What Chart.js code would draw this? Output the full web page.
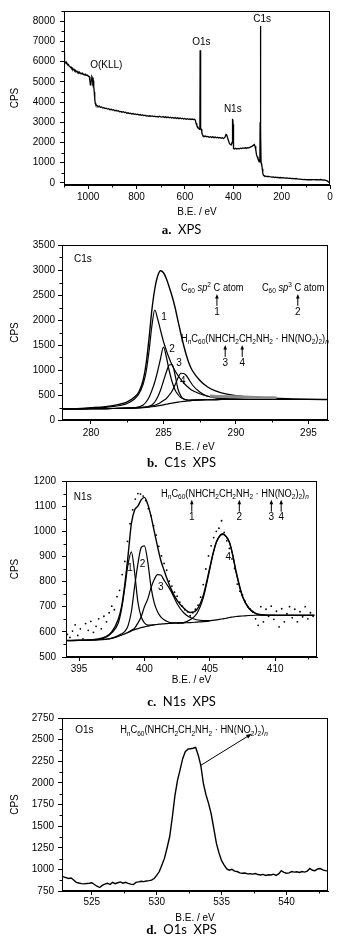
<!DOCTYPE html>
<html>
<head>
<meta charset="utf-8">
<script src="https://cdn.jsdelivr.net/npm/chart.js@4.4.1/dist/chart.umd.min.js"></script>
<style>
  body { margin: 0; background: #fff; width: 363px; height: 946px; position: relative; overflow: hidden; }
  canvas { position: absolute; left: 0; }
  .cap { position: absolute; left: 0; width: 363px; text-align: center; line-height: 14px; font: 13px "Lato", "DejaVu Sans", sans-serif; color: #000; }
  .cap b { font-family: "Liberation Serif", serif; }
</style>
</head>
<body>
<canvas id="survey" width="363" height="222" style="top:0px"></canvas>
<div class="cap" style="top:221px"><b>a.</b>&nbsp; XPS</div>
<canvas id="c1s" width="363" height="218" style="top:236px"></canvas>
<div class="cap" style="top:454px"><b>b.</b>&nbsp; C1s&nbsp; XPS</div>
<canvas id="n1s" width="363" height="222" style="top:468px"></canvas>
<div class="cap" style="top:693px"><b>c.</b>&nbsp; N1s&nbsp; XPS</div>
<canvas id="o1s" width="363" height="221" style="top:705px"></canvas>
<div class="cap" style="top:921px"><b>d.</b>&nbsp; O1s&nbsp; XPS</div>

<script>
// ---------- a. survey spectrum ----------
var surveyBE = [
  1100, 1099, 1097, 1094, 1091, 1088, 1085, 1082, 1079, 1076,
  1073, 1070, 1067, 1064, 1061, 1058, 1055, 1052, 1049, 1046,
  1043, 1040, 1037, 1034, 1031, 1028, 1025, 1022, 1019, 1016,
  1013, 1010, 1007, 1004, 1001, 998, 995, 993, 991, 989,
  987, 985, 983, 981, 979, 977, 975, 973, 971, 969,
  966, 963, 960, 955, 950, 945, 940, 935, 930, 925,
  920, 915, 910, 905, 900, 895, 890, 885, 880, 875,
  870, 865, 860, 855, 850, 845, 840, 835, 830, 825,
  820, 815, 810, 805, 800, 795, 790, 785, 780, 775,
  770, 765, 760, 755, 750, 745, 740, 735, 730, 725,
  720, 715, 710, 705, 700, 695, 690, 685, 680, 675,
  670, 665, 660, 655, 650, 645, 640, 635, 630, 625,
  620, 615, 610, 605, 600, 595, 590, 585, 580, 575,
  570, 565, 560, 557, 554, 551, 548, 545, 542, 540,
  538, 537, 536, 535, 534, 532, 530, 528, 526, 524,
  520, 515, 510, 505, 500, 495, 490, 485, 480, 475,
  470, 465, 460, 455, 450, 445, 440, 435, 430, 427,
  424, 420, 416, 412, 408, 405, 404, 403, 402, 401,
  400, 398, 395, 390, 385, 380, 375, 370, 365, 360,
  355, 350, 345, 340, 335, 330, 325, 320, 316, 313,
  310, 307, 304, 301, 298, 295, 292, 290, 289, 288,
  287, 286, 285, 284, 282, 280, 278, 276, 273, 270,
  265, 260, 255, 250, 245, 240, 235, 230, 225, 220,
  215, 210, 205, 200, 195, 190, 185, 180, 175, 170,
  165, 160, 155, 150, 145, 140, 135, 130, 125, 120,
  115, 110, 105, 100, 95, 90, 85, 80, 75, 70,
  65, 60, 55, 50, 45, 40, 35, 30, 25, 20,
  15, 10, 5, 2, 0
];
var surveyCPS = [
  6450, 6200, 6000, 5980, 5900, 5920, 5840, 5860, 5780, 5760,
  5700, 5720, 5640, 5660, 5590, 5610, 5540, 5560, 5500, 5520,
  5460, 5480, 5430, 5450, 5400, 5420, 5380, 5400, 5350, 5370,
  5330, 5350, 5310, 5330, 5300, 5280, 5250, 5050, 4850, 4880,
  5100, 5250, 5200, 4950, 5050, 4750, 4500, 4200, 3950, 3880,
  3850, 3820, 3780, 3800, 3740, 3760, 3700, 3720, 3680, 3700,
  3650, 3670, 3620, 3640, 3600, 3620, 3570, 3590, 3550, 3570,
  3520, 3540, 3500, 3520, 3480, 3500, 3450, 3470, 3430, 3450,
  3410, 3430, 3390, 3410, 3380, 3400, 3360, 3380, 3340, 3360,
  3330, 3350, 3310, 3330, 3300, 3320, 3290, 3310, 3280, 3300,
  3270, 3290, 3260, 3300, 3270, 3260, 3290, 3240, 3270, 3230,
  3260, 3220, 3250, 3210, 3240, 3200, 3230, 3190, 3220, 3180,
  3210, 3170, 3200, 3160, 3190, 3150, 3180, 3150, 3170, 3140,
  3160, 3130, 3150, 3100, 2950, 2850, 2800, 2720, 2700, 2650,
  2900, 6560, 6000, 3000, 2700, 2650, 2500, 2400, 2350, 2330,
  2300, 2320, 2280, 2300, 2260, 2290, 2250, 2280, 2240, 2270,
  2230, 2260, 2220, 2250, 2210, 2240, 2200, 2250, 2400, 2380,
  2250, 2100, 1950, 1900, 1880, 2000, 3170, 3050, 2800, 2900,
  2200, 1700, 1680, 1720, 1680, 1710, 1690, 1720, 1700, 1730,
  1710, 1740, 1720, 1750, 1740, 1770, 1800, 1830, 1880, 1900,
  1820, 1650, 1400, 1300, 1200, 1150, 1050, 1100, 3000, 7760,
  7600, 2500, 1000, 900, 950, 700, 500, 400, 360, 350,
  330, 320, 330, 310, 300, 290, 300, 280, 290, 270,
  280, 260, 270, 250, 260, 250, 240, 250, 240, 230,
  240, 220, 230, 220, 210, 220, 200, 190, 190, 180,
  180, 170, 180, 170, 160, 165, 160, 170, 160, 165,
  170, 160, 165, 160, 150, 170, 160, 140, 150, 140,
  120, 90, 40, 20, 10
];
var surveyTicksX = [0, 200, 400, 600, 800, 1000];
var surveyTicksY = [0, 1000, 2000, 3000, 4000, 5000, 6000, 7000, 8000];

// ---------- b. C1s ----------
var c1sBE = [278, 279, 280, 281, 281.5, 282, 282.5, 283, 283.3, 283.6, 283.8,
  284, 284.2, 284.4, 284.6, 284.8, 285, 285.2, 285.4, 285.6, 285.8,
  286, 286.2, 286.4, 286.6, 286.8, 287, 287.5, 288, 288.5,
  289, 290, 291, 292, 293, 294, 295, 296.5];
var c1sEnvelope = [222, 228, 246, 268, 288, 318, 362, 460, 560, 800, 1120,
  1620, 2200, 2620, 2880, 2985, 2945, 2825, 2655, 2470, 2250,
  1985, 1725, 1485, 1275, 1105, 985, 795, 670, 592,
  542, 485, 458, 442, 430, 420, 414, 410];
var c1sPeak1 = [221, 226, 238, 252, 266, 290, 330, 420, 520, 720, 960,
  1370, 1880, 2200, 2020, 1790, 1570, 1390, 1230, 1095, 985,
  890, 810, 740, 680, 630, 590, 525, 480, 452,
  437, 421, 414, 411, 410, 410, 410, 410];
var c1sPeak2 = [221, 223, 225, 228, 230, 233, 237, 243, 262, 300, 360,
  450, 590, 760, 980, 1230, 1460, 1260, 980, 760, 600,
  510, 450, 420, 405, 400, 400, 404, 407, 409,
  410, 410, 410, 410, 410, 410, 410, 410];
var c1sPeak3 = [221, 223, 225, 228, 230, 233, 237, 243, 248, 255, 262,
  275, 300, 360, 460, 600, 780, 960, 1100, 1110, 900,
  620, 480, 420, 400, 395, 397, 402, 406, 408,
  410, 410, 410, 410, 410, 410, 410, 410];
var c1sPeak4 = [221, 223, 225, 228, 230, 233, 237, 242, 247, 254, 260,
  268, 280, 296, 320, 352, 390, 430, 500, 580, 700,
  840, 935, 930, 880, 790, 700, 560, 480, 445,
  428, 416, 412, 410, 410, 410, 410, 410];
var c1sBackground = [220, 222, 225, 228, 230, 233, 236, 240, 244, 249, 253,
  258, 265, 273, 282, 292, 303, 315, 327, 338, 348,
  357, 365, 372, 378, 383, 392, 400, 405, 408,
  410, 410, 410, 410, 410, 410, 410, 410];
var c1sRawBE = [288.2, 289, 289.8, 290.6, 291.4, 292.2, 292.8];
var c1sRawCPS = [480, 470, 465, 460, 452, 446, 442];
var c1sTicksX = [280, 285, 290, 295];
var c1sTicksY = [0, 500, 1000, 1500, 2000, 2500, 3000, 3500];

// ---------- c. N1s ----------
var n1sBE = [394, 395, 396, 396.5, 397, 397.5, 398, 398.25, 398.5, 398.75,
  399, 399.25, 399.5, 399.75, 400, 400.25, 400.5, 400.75, 401, 401.25,
  401.5, 401.75, 402, 402.5, 403, 403.5, 404, 404.5, 405, 405.25,
  405.5, 405.75, 406, 406.25, 406.5, 406.75, 407, 407.5, 408, 408.5,
  409, 410, 411, 412, 413];
var n1sEnvelope = [566, 567, 569, 572, 580, 600, 650, 700, 790, 905,
  1030, 1085, 1100, 1125, 1135, 1108, 1060, 1000, 940, 885,
  845, 808, 775, 725, 695, 677, 688, 745, 855, 912,
  957, 982, 990, 980, 957, 907, 842, 742, 694, 674,
  668, 666, 666, 666, 666];
var n1sPeak1 = [565, 566, 568, 570, 577, 596, 635, 690, 775, 870,
  918, 835, 718, 660, 636, 627, 627, 628, null, null,
  null, null, null, null, null, null, null, null, null, null,
  null, null, null, null, null, null, null, null, null, null,
  null, null, null, null, null];
var n1sPeak2 = [null, null, null, null, 570, 575, 585, 592, 602, 625,
  680, 780, 870, 935, 942, 880, 780, 715, 680, 660,
  648, 641, 637, 636, 636, null, null, null, null, null,
  null, null, null, null, null, null, null, null, null, null,
  null, null, null, null, null];
var n1sPeak3 = [null, null, null, null, null, null, null, null, null, 598,
  606, 615, 635, 660, 700, 730, 775, 808, 828, 826,
  806, 786, 765, 712, 676, 657, 648, 645, 645, null,
  null, null, null, null, null, null, null, null, null, null,
  null, null, null, null, null];
var n1sPeak4 = [null, null, null, null, null, null, null, null, null, null,
  null, null, null, null, null, null, null, null, null, null,
  null, null, null, 635, 637, 648, 672, 735, 850, 910,
  955, 980, 988, 978, 955, 905, 840, 740, 692, 673,
  667, 666, null, null, null];
var n1sBackground = [565, 566, 567, 568, 570, 574, 582, 587, 592, 598,
  604, 609, 613, 617, 620, 623, 626, 628, 630, 631,
  632, 633, 634, 635, 636, 637, 639, 641, 644, 646,
  648, 650, 652, 654, 657, 659, 661, 663, 665, 666,
  666, 666, 666, 666, 666];
var n1sRawBE = [
  394.1, 394.3, 394.5, 394.7, 394.9, 395.1, 395.3, 395.5, 395.7, 395.9,
  396.1, 396.3, 396.5, 396.7, 396.9, 397.1, 397.3, 397.5, 397.7, 397.9,
  398.1, 398.3, 398.5, 398.7, 398.9, 399.1, 399.3, 399.5, 399.7, 399.9,
  400.1, 400.3, 400.5, 400.7, 400.9, 401.1, 401.3, 401.5, 401.7, 401.9,
  402.1, 402.3, 402.5, 402.7, 402.9, 403.1, 403.3, 403.5, 403.7, 403.9,
  404.1, 404.3, 404.5, 404.7, 404.9, 405.1, 405.3, 405.5, 405.7, 405.9,
  406.1, 406.3, 406.5, 406.7, 406.9, 407.1, 407.3, 407.5, 407.7, 407.9,
  408.1, 408.3, 408.5, 408.7, 408.9, 409.1, 409.3, 409.5, 409.7, 409.9,
  410.1, 410.3, 410.5, 410.7, 410.9, 411.1, 411.3, 411.5, 411.7, 411.9,
  412.1, 412.3, 412.5, 412.7, 412.9
];
var n1sRawCPS = [
  590, 578, 603, 628, 586, 612, 572, 633, 606, 642,
  598, 622, 652, 612, 662, 640, 676, 702, 688, 740,
  765, 828, 880, 960, 1030, 1085, 1128, 1150, 1148, 1140,
  1122, 1090, 1062, 1022, 985, 940, 902, 872, 845, 802,
  782, 758, 742, 718, 702, 688, 680, 664, 676, 690,
  706, 738, 788, 850, 902, 942, 975, 1000, 1012, 1042,
  996, 962, 932, 890, 852, 790, 762, 746, 722, 700,
  690, 680, 652, 626, 700, 640, 690, 662, 702, 650,
  682, 620, 692, 640, 672, 700, 656, 690, 640, 680,
  660, 700, 652, 676, 662
];
var n1sTicksX = [395, 400, 405, 410];
var n1sTicksY = [500, 600, 700, 800, 900, 1000, 1100, 1200];

// ---------- d. O1s ----------
var o1sBE = [
  522.7, 523.0, 523.2, 523.4, 523.6, 523.8, 524.0, 524.2, 524.4, 524.6,
  524.8, 525.0, 525.2, 525.4, 525.6, 525.8, 526.0, 526.2, 526.4, 526.6,
  526.8, 527.0, 527.2, 527.4, 527.6, 527.8, 528.0, 528.2, 528.4, 528.6,
  528.8, 529.0, 529.2, 529.4, 529.6, 529.8, 530.0, 530.2, 530.4, 530.6,
  530.8, 531.0, 531.2, 531.4, 531.6, 531.8, 532.0, 532.2, 532.4, 532.6,
  532.8, 533.0, 533.2, 533.4, 533.6, 533.8, 534.0, 534.2, 534.4, 534.6,
  534.8, 535.0, 535.2, 535.4, 535.6, 535.8, 536.0, 536.2, 536.4, 536.6,
  536.8, 537.0, 537.2, 537.4, 537.6, 537.8, 538.0, 538.2, 538.4, 538.6,
  538.8, 539.0, 539.2, 539.4, 539.6, 539.8, 540.0, 540.2, 540.4, 540.6,
  540.8, 541.0, 541.2, 541.4, 541.6, 541.8, 542.0, 542.2, 542.4, 542.6,
  542.8, 543.0, 543.2
];
var o1sCPS = [
  920, 905, 895, 900, 878, 850, 842, 835, 832, 836,
  840, 845, 825, 805, 790, 815, 830, 840, 825, 850,
  835, 845, 855, 840, 850, 838, 830, 825, 850, 855,
  862, 858, 866, 870, 875, 895, 930, 975, 1050, 1130,
  1250, 1380, 1600, 1850, 2030, 2150, 2280, 2360, 2390, 2395,
  2400, 2410, 2320, 2200, 1990, 1860, 1760, 1640, 1470, 1300,
  1190, 1100, 1050, 1005, 990, 1000, 980, 975, 960, 955,
  958, 948, 950, 945, 952, 940, 935, 942, 930, 938,
  935, 945, 930, 948, 985, 965, 955, 960, 975, 968,
  972, 965, 975, 968, 980, 1010, 990, 985, 1005, 1010,
  995, 985, 982
];
var o1sTicksX = [525, 530, 535, 540];
var o1sTicksY = [750, 1000, 1250, 1500, 1750, 2000, 2250, 2500, 2750];

// formula H_nC60(NHCH2CH2NH2·HN(NO2)2)_n, pieces can carry an arrow id
var formulaParts = [['H'], ['n', 'subi'], ['C'], ['60', 'sub'], ['('], ['N', '', 'nh'], ['H'],
  ['C', '', 'ch2a'], ['H'], ['2', 'sub'], ['C', '', 'ch2b'], ['H'], ['2', 'sub'],
  ['N', '', 'nh2'], ['H'], ['2', 'sub'], [' \u00b7 H'], ['N', '', 'hn'], ['('], ['N', '', 'no2'],
  ['O'], ['2', 'sub'], [')'], ['2', 'sub'], [')'], ['n', 'subi']];
var sp2Parts = [['C'], ['60', 'sub'], [' '], ['sp', 'i'], ['2', 'sup'], [' '], ['C', '', 'c'], [' atom']];
var sp3Parts = [['C'], ['60', 'sub'], [' '], ['sp', 'i'], ['3', 'sup'], [' '], ['C', '', 'c'], [' atom']];

var FONT = '"Liberation Sans", Arial, sans-serif';
var SQUEEZE = 0.93;
Chart.defaults.font.family = FONT;
Chart.defaults.font.size = 10;
Chart.defaults.color = '#000';

function xy(xs, ys) {
  return xs.map(function (x, i) { return { x: x, y: ys[i] }; });
}

function curve(xs, ys, smooth, width, color) {
  return {
    data: xy(xs, ys),
    borderColor: color || '#000',
    borderWidth: width || 1.2,
    pointRadius: 0,
    fill: false,
    spanGaps: false,
    cubicInterpolationMode: smooth ? 'monotone' : 'default',
    tension: 0
  };
}

function pos(chart, x, y) {
  return [chart.scales.x.getPixelForValue(x), chart.scales.y.getPixelForValue(y)];
}

function text(ctx, str, x, y, align) {
  ctx.font = '10px ' + FONT;
  ctx.textAlign = align || 'left';
  ctx.textBaseline = 'middle';
  ctx.fillStyle = '#000';
  ctx.fillText(str, x, y);
}

// draws text with sub/superscripts, left edge x, vertical middle y
function richText(ctx, parts, x, y, marks) {
  var base = y + 3.6, cx = 0, hits = [];
  ctx.save();
  ctx.fillStyle = '#000';
  ctx.textAlign = 'left';
  ctx.textBaseline = 'alphabetic';
  parts.forEach(function (p) {
    var kind = p[1] || '';
    var small = kind.indexOf('sub') === 0 || kind.indexOf('sup') === 0;
    var italic = kind === 'i' || kind === 'subi';
    ctx.font = (italic ? 'italic ' : '') + (small ? 7 : 10) + 'px ' + FONT;
    var dy = kind.indexOf('sub') === 0 ? 2.5 : (kind.indexOf('sup') === 0 ? -4 : 0);
    var w = ctx.measureText(p[0]).width * SQUEEZE;
    ctx.save();
    ctx.translate(x + cx, base + dy);
    ctx.scale(SQUEEZE, 1);
    ctx.fillText(p[0], 0, 0);
    ctx.restore();
    if (p[2] && marks && marks[p[2]]) hits.push([x + cx + w / 2, marks[p[2]]]);
    cx += w;
  });
  ctx.restore();
  hits.forEach(function (h) { upArrow(ctx, h[0], base, h[1]); });
}

function upArrow(ctx, ax, base, num) {
  var top = base + 3, bot = base + 15;
  ctx.save();
  ctx.strokeStyle = '#000';
  ctx.fillStyle = '#000';
  ctx.lineWidth = 1;
  ctx.beginPath();
  ctx.moveTo(ax, top + 3);
  ctx.lineTo(ax, bot);
  ctx.stroke();
  ctx.beginPath();
  ctx.moveTo(ax, top);
  ctx.lineTo(ax - 1.8, top + 4.5);
  ctx.lineTo(ax + 1.8, top + 4.5);
  ctx.closePath();
  ctx.fill();
  text(ctx, num, ax, base + 21, 'center');
  ctx.restore();
}

function arrowLine(ctx, x1, y1, x2, y2) {
  var a = Math.atan2(y2 - y1, x2 - x1), h = 6;
  ctx.save();
  ctx.strokeStyle = '#000';
  ctx.fillStyle = '#000';
  ctx.lineWidth = 1;
  ctx.beginPath();
  ctx.moveTo(x1, y1);
  ctx.lineTo(x2 - 4 * Math.cos(a), y2 - 4 * Math.sin(a));
  ctx.stroke();
  ctx.beginPath();
  ctx.moveTo(x2, y2);
  ctx.lineTo(x2 - h * Math.cos(a - 0.35), y2 - h * Math.sin(a - 0.35));
  ctx.lineTo(x2 - h * Math.cos(a + 0.35), y2 - h * Math.sin(a + 0.35));
  ctx.closePath();
  ctx.fill();
  ctx.restore();
}

// minor tick values between the labelled ones
function minorValues(scale, step) {
  var out = [], majors = scale.ticks.map(function (t) { return t.value; });
  for (var v = Math.ceil(scale.min / step - 1e-9) * step; v <= scale.max + 1e-9; v += step) {
    var r = Math.round(v * 1000) / 1000;
    if (majors.every(function (m) { return Math.abs(m - r) > 1e-6; })) out.push(r);
  }
  return out;
}

// box round the plot + short minor ticks
var framePlugin = {
  id: 'frame',
  afterDraw: function (chart, args, opts) {
    var ctx = chart.ctx, a = chart.chartArea;
    ctx.save();
    ctx.strokeStyle = '#000';
    ctx.lineWidth = 1;
    ctx.strokeRect(Math.round(a.left) + 0.5, Math.round(a.top) + 0.5,
      Math.round(a.right - a.left) - 1, Math.round(a.bottom - a.top) - 1);
    ctx.beginPath();
    minorValues(chart.scales.x, opts.minorX).forEach(function (v) {
      var p = Math.round(chart.scales.x.getPixelForValue(v)) + 0.5;
      ctx.moveTo(p, a.bottom);
      ctx.lineTo(p, a.bottom + 2.5);
    });
    minorValues(chart.scales.y, opts.minorY).forEach(function (v) {
      var p = Math.round(chart.scales.y.getPixelForValue(v)) + 0.5;
      ctx.moveTo(a.left, p);
      ctx.lineTo(a.left - 2.5, p);
    });
    ctx.stroke();
    if (opts.notes) opts.notes(chart, ctx);
    ctx.restore();
  }
};

function axes(o) {
  return {
    x: {
      type: 'linear', min: o.xmin, max: o.xmax, reverse: !!o.reverse,
      afterBuildTicks: function (s) { s.ticks = o.xticks.map(function (v) { return { value: v }; }); },
      afterFit: function (s) { s.height = o.xHeight; },
      ticks: { padding: o.xPad, autoSkip: false, maxRotation: 0, callback: function (v) { return String(v); } },
      grid: { drawOnChartArea: false, tickLength: 4, color: '#000' },
      border: { color: '#000', width: 1 },
      title: { display: true, text: 'B.E. / eV', padding: { top: 0, bottom: o.xTitlePad } }
    },
    y: {
      type: 'linear', min: o.ymin, max: o.ymax,
      afterBuildTicks: function (s) { s.ticks = o.yticks.map(function (v) { return { value: v }; }); },
      afterFit: function (s) { s.width = o.yWidth; },
      ticks: { padding: o.yPad, autoSkip: false, callback: function (v) { return String(v); } },
      grid: { drawOnChartArea: false, tickLength: 4, color: '#000' },
      border: { color: '#000', width: 1 },
      title: { display: true, text: 'CPS', padding: { top: 9, bottom: 0 } }
    }
  };
}

function makeChart(id, datasets, ax, pad, frame) {
  return new Chart(document.getElementById(id), {
    type: 'line',
    data: { datasets: datasets },
    options: {
      responsive: false,
      animation: false,
      devicePixelRatio: 1,
      layout: { padding: pad },
      scales: axes(ax),
      plugins: { legend: { display: false }, tooltip: { enabled: false }, frame: frame }
    },
    plugins: [framePlugin]
  });
}

// a. survey
makeChart('survey',
  [curve(surveyBE, surveyCPS, false, 1.3)],
  { xmin: 0, xmax: 1100, reverse: true, xticks: surveyTicksX, ymin: -100, ymax: 8500, yticks: surveyTicksY,
    yWidth: 64, xHeight: 37, xPad: 2, yPad: 5, xTitlePad: 4 },
  { top: 7, right: 33, bottom: 0, left: 0 },
  { minorX: 100, minorY: 500, notes: function (chart, ctx) {
      [['O(KLL)', 925, 5820], ['O1s', 532, 6980], ['N1s', 402, 3660], ['C1s', 281, 8080]].forEach(function (n) {
        var p = pos(chart, n[1], n[2]);
        text(ctx, n[0], p[0], p[1], 'center');
      });
    } });

// b. C1s
makeChart('c1s',
  [curve(c1sBackground, c1sBackground, true),
   curve(c1sRawBE, c1sRawCPS, true, 3, '#8a8a8a'),
   curve(c1sBE, c1sPeak4, true),
   curve(c1sBE, c1sPeak3, true),
   curve(c1sBE, c1sPeak2, true),
   curve(c1sBE, c1sPeak1, true),
   curve(c1sBE, c1sEnvelope, true, 1.4)].map(function (d, i) {
     if (i === 0) d.data = xy(c1sBE, c1sBackground);
     return d;
   }),
  { xmin: 278, xmax: 296.35, xticks: c1sTicksX, ymin: 0, ymax: 3500, yticks: c1sTicksY,
    yWidth: 62, xHeight: 34, xPad: 3, yPad: 3, xTitlePad: 1 },
  { top: 9, right: 35, bottom: 0, left: 0 },
  { minorX: 2.5, minorY: 250, notes: function (chart, ctx) {
      var p = pos(chart, 278.83, 3220); text(ctx, 'C1s', p[0], p[1]);
      p = pos(chart, 286.21, 2654); richText(ctx, sp2Parts, p[0], p[1], { c: '1' });
      p = pos(chart, 291.79, 2654); richText(ctx, sp3Parts, p[0], p[1], { c: '2' });
      p = pos(chart, 286.21, 1634); richText(ctx, formulaParts, p[0], p[1], { ch2a: '3', ch2b: '4' });
      [['1', 285.03, 2060], ['2', 285.59, 1420], ['3', 286.07, 1140], ['4', 286.34, 780]].forEach(function (n) {
        var q = pos(chart, n[1], n[2]);
        text(ctx, n[0], q[0], q[1], 'center');
      });
    } });

// c. N1s
var dots = {
  data: xy(n1sRawBE, n1sRawCPS), showLine: false, pointRadius: 0.9, pointBorderWidth: 0,
  pointBackgroundColor: '#000', borderColor: '#000'
};
makeChart('n1s',
  [dots,
   curve(n1sBE, n1sBackground, true),
   curve(n1sBE, n1sPeak1, true),
   curve(n1sBE, n1sPeak2, true),
   curve(n1sBE, n1sPeak3, true),
   curve(n1sBE, n1sPeak4, true),
   curve(n1sBE, n1sEnvelope, true, 1.4)],
  { xmin: 394, xmax: 413.2, xticks: n1sTicksX, ymin: 500, ymax: 1200, yticks: n1sTicksY,
    yWidth: 66, xHeight: 33, xPad: 2, yPad: 6, xTitlePad: 4 },
  { top: 13, right: 46, bottom: 0, left: 0 },
  { minorX: 2.5, minorY: 50, notes: function (chart, ctx) {
      var p = pos(chart, 394.6, 1135); text(ctx, 'N1s', p[0], p[1]);
      p = pos(chart, 401.27, 1152); richText(ctx, formulaParts, p[0], p[1], { nh: '1', nh2: '2', hn: '3', no2: '4' });
      [['1', 398.9, 851], ['2', 399.85, 867], ['3', 401.25, 778], ['4', 406.42, 898]].forEach(function (n) {
        var q = pos(chart, n[1], n[2]);
        text(ctx, n[0], q[0], q[1], 'center');
      });
    } });

// d. O1s
makeChart('o1s',
  [curve(o1sBE, o1sCPS, false, 1.4)],
  { xmin: 522.7, xmax: 543.2, xticks: o1sTicksX, ymin: 750, ymax: 2750, yticks: o1sTicksY,
    yWidth: 62, xHeight: 35, xPad: 1, yPad: 4, xTitlePad: 2 },
  { top: 13, right: 35, bottom: 0, left: 0 },
  { minorX: 2.5, minorY: 125, notes: function (chart, ctx) {
      var p = pos(chart, 523.72, 2603); text(ctx, 'O1s', p[0], p[1]);
      p = pos(chart, 527.18, 2614); richText(ctx, formulaParts, p[0], p[1]);
      var a = pos(chart, 533.33, 2197), b = pos(chart, 537.33, 2568);
      arrowLine(ctx, a[0], a[1], b[0], b[1]);
    } });
</script>
</body>
</html>
